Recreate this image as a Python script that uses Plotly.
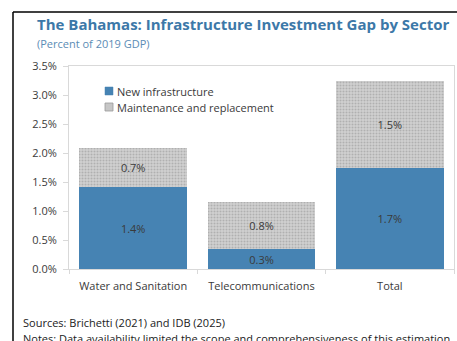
import plotly.graph_objects as go

# Infrastructure investment gap, percent of 2019 GDP
sectors = ["Water and Sanitation", "Telecommunications", "Total"]
new_infra = [1.41, 0.34, 1.74]
maintenance = [0.68, 0.82, 1.50]
y_ticks = [0.0, 0.5, 1.0, 1.5, 2.0, 2.5, 3.0, 3.5]
series_names = ["New infrastructure", "Maintenance and replacement"]

W, H = 457, 341
ML, MR, MT, MB = 69, 3, 66, 72
pw, ph = W - ML - MR, H - MT - MB


def px(x):
    return (x - ML) / pw


def py(y):
    return (H - MB - y) / ph


FONT = "Open Sans"
TXT = "#3a3a3a"
BLUE = "#4683b3"
GREY_BG = "#d2d2d2"
GREY_FG = "#8e8e8e"

fig = go.Figure()
fig.add_trace(go.Bar(
    x=sectors, y=new_infra, name=series_names[0],
    marker=dict(color=BLUE, line=dict(width=0)),
    text=[f"{v:.1f}%" for v in new_infra],
    textposition="inside", insidetextanchor="middle",
    textfont=dict(size=11, color=TXT, family=FONT),
    constraintext="none", showlegend=False,
))
fig.add_trace(go.Bar(
    x=sectors, y=maintenance, name=series_names[1],
    marker=dict(color=GREY_BG, line=dict(width=0),
                pattern=dict(shape=".", fgcolor=GREY_FG, bgcolor=GREY_BG,
                             size=3, solidity=0.4)),
    text=[f"{v:.1f}%" for v in maintenance],
    textposition="inside", insidetextanchor="middle",
    textfont=dict(size=11, color=TXT, family=FONT),
    constraintext="none", showlegend=False,
))

fig.update_layout(
    width=W, height=H,
    margin=dict(l=ML, r=MR, t=MT, b=MB, pad=0),
    barmode="stack", bargap=0.16,
    paper_bgcolor="white", plot_bgcolor="white",
    font=dict(family=FONT, size=11, color=TXT),
    xaxis=dict(showgrid=False, ticks="outside", tickson="boundaries",
               ticklen=4, tickcolor="#d9d9d9", showline=True,
               linecolor="#d9d9d9", linewidth=1, mirror=True,
               ticklabelstandoff=7,
               tickfont=dict(size=11, color=TXT)),
    yaxis=dict(range=[0, 3.5], tickvals=y_ticks,
               ticktext=[f"{v:.1f}%" for v in y_ticks],
               showgrid=False, zeroline=False, ticks="outside", ticklen=5,
               tickcolor="#d9d9d9", showline=True, linecolor="#d9d9d9",
               linewidth=1, mirror=True, ticklabelstandoff=4,
               tickfont=dict(size=11, color=TXT)),
)

# legend keys drawn as small swatches with labels
legend_rows = [(91, dict(fillcolor=BLUE, line=dict(color=BLUE, width=0.5))),
               (107, dict(fillcolor="#c6c6c6", line=dict(color="#9a9a9a", width=0.8)))]
for name, (yc, style) in zip(series_names, legend_rows):
    fig.add_shape(type="rect", xref="paper", yref="paper",
                  x0=px(105), x1=px(113), y0=py(yc + 4), y1=py(yc - 4), **style)
    fig.add_annotation(xref="paper", yref="paper", x=px(115), y=py(yc),
                       xanchor="left", yanchor="middle", showarrow=False,
                       text=name, font=dict(size=11, color=TXT, family=FONT))

# frame lines on the left and top of the panel
fig.add_shape(type="line", xref="paper", yref="paper",
              x0=px(13), x1=px(470), y0=py(12), y1=py(12),
              line=dict(color="black", width=1.5))
fig.add_shape(type="line", xref="paper", yref="paper",
              x0=px(13), x1=px(13), y0=py(12), y1=py(360),
              line=dict(color="black", width=1.5))

fig.add_annotation(xref="paper", yref="paper", x=px(35), y=py(24),
                   xanchor="left", yanchor="middle", showarrow=False,
                   text="<b>The Bahamas: Infrastructure Investment Gap by Sector</b>",
                   font=dict(size=15, color="#3c78a8", family=FONT))
fig.add_annotation(xref="paper", yref="paper", x=px(35), y=py(44),
                   xanchor="left", yanchor="middle", showarrow=False,
                   text="(Percent of 2019 GDP)",
                   font=dict(size=11, color="#5b8cb5", family=FONT))
fig.add_annotation(xref="paper", yref="paper", x=px(21), y=py(322),
                   xanchor="left", yanchor="middle", showarrow=False,
                   text="Sources: Brichetti (2021) and IDB (2025)",
                   font=dict(size=11, color="#222222", family=FONT))
fig.add_annotation(xref="paper", yref="paper", x=px(21), y=py(338),
                   xanchor="left", yanchor="middle", showarrow=False,
                   text="Notes: Data availability limited the scope and comprehensiveness of this estimation",
                   font=dict(size=11, color="#222222", family=FONT))

fig.write_html("out.html")
